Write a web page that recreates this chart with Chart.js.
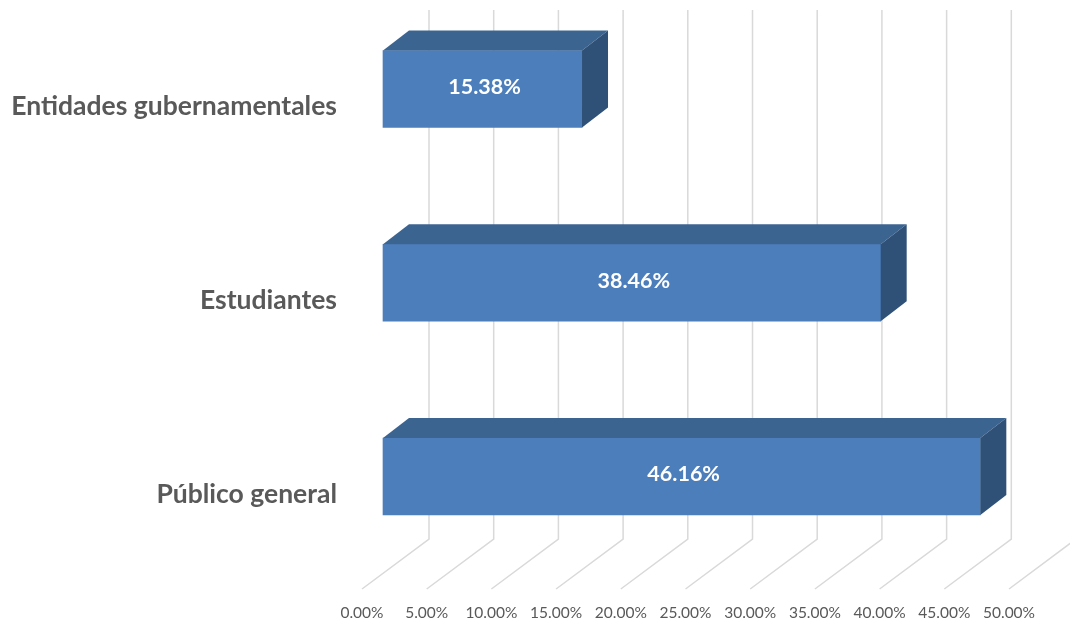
<!DOCTYPE html>
<html>
<head>
<meta charset="utf-8">
<title>Chart</title>
<script src="https://cdn.jsdelivr.net/npm/chart.js@4/dist/chart.umd.min.js"></script>
<style>
    body { margin: 0; background: #fff; }
    canvas { display: block; }
</style>
</head>
<body>
<canvas id="barchart" width="1070" height="618"></canvas>
<script>
var categories = ['Entidades gubernamentales', 'Estudiantes', 'Público general'];
var percentages = [15.38, 38.46, 46.16];
var tickStep = 5;

// 3D look of the original: how far the box and the wall sit from the bar front
var DEPTH_X = 26, DEPTH_Y = 20;
var WALL_X = 46, WALL_TOP = 79, WALL_BOTTOM = 62.5;
var FLOOR_X = 21, FLOOR_Y = 112.5;

// Back wall and floor lines, one per tick of the x axis
var wallGrid = {
    id: 'wallGrid',
    beforeDatasetsDraw: function (chart) {
        var ctx = chart.ctx, area = chart.chartArea, scale = chart.scales.x;
        ctx.save();
        ctx.strokeStyle = '#d9d9d9';
        ctx.lineWidth = 1.5;
        scale.ticks.forEach(function (tick) {
            var x = scale.getPixelForValue(tick.value);
            ctx.beginPath();
            ctx.moveTo(x + WALL_X, area.top - WALL_TOP);
            ctx.lineTo(x + WALL_X, area.bottom + WALL_BOTTOM);
            ctx.lineTo(x - FLOOR_X, area.bottom + FLOOR_Y);
            ctx.stroke();
        });
        ctx.restore();
    }
};

// Top and side faces of every bar, plus the value on its front
var boxFaces = {
    id: 'boxFaces',
    afterDatasetsDraw: function (chart) {
        var ctx = chart.ctx;
        var bars = chart.getDatasetMeta(0).data;
        ctx.save();
        bars.forEach(function (bar, i) {
            var top = bar.y - bar.height / 2, bottom = bar.y + bar.height / 2;

            ctx.fillStyle = '#3c6490';
            ctx.beginPath();
            ctx.moveTo(bar.base, top);
            ctx.lineTo(bar.base + DEPTH_X, top - DEPTH_Y);
            ctx.lineTo(bar.x + DEPTH_X, top - DEPTH_Y);
            ctx.lineTo(bar.x, top);
            ctx.closePath();
            ctx.fill();

            ctx.fillStyle = '#2f5178';
            ctx.beginPath();
            ctx.moveTo(bar.x, top);
            ctx.lineTo(bar.x + DEPTH_X, top - DEPTH_Y);
            ctx.lineTo(bar.x + DEPTH_X, bottom - DEPTH_Y);
            ctx.lineTo(bar.x, bottom);
            ctx.closePath();
            ctx.fill();

            ctx.fillStyle = '#ffffff';
            ctx.font = 'bold 21.5px Lato';
            ctx.textAlign = 'center';
            ctx.textBaseline = 'middle';
            ctx.fillText(percentages[i].toFixed(2) + '%', (bar.base + bar.x) / 2 + 2, bar.y - 2);
        });
        ctx.restore();
    }
};

function initBarChart() {
    var ctx = document.getElementById('barchart').getContext('2d');
    new Chart(ctx, {
        type: 'bar',
        data: {
            labels: categories,
            datasets: [{
                data: percentages,
                backgroundColor: '#4c7ebc',
                barThickness: 77,
                clip: false
            }]
        },
        options: {
            indexAxis: 'y',
            responsive: false,
            animation: false,
            layout: { padding: { top: 89 } },
            plugins: {
                legend: { display: false },
                tooltip: { enabled: false }
            },
            scales: {
                x: {
                    min: 0,
                    max: 53.09,
                    grid: { display: false },
                    border: { display: false },
                    afterFit: function (scale) {
                        // tick padding would otherwise eat into the plot width
                        scale.height = 141.5;
                        scale.paddingLeft = 0;
                        scale.paddingRight = 0;
                    },
                    ticks: {
                        stepSize: tickStep,
                        includeBounds: false,
                        autoSkip: false,
                        maxRotation: 0,
                        padding: 119,
                        labelOffset: -FLOOR_X,
                        color: '#595959',
                        font: { family: 'Lato', size: 15.5 },
                        callback: function (value) { return value.toFixed(2) + '%'; }
                    }
                },
                y: {
                    offset: false,
                    grid: { display: false },
                    border: { display: false },
                    afterFit: function (scale) { scale.width = 383; },
                    ticks: {
                        padding: 38,
                        labelOffset: 17.5,
                        color: '#595959',
                        font: { family: 'Lato', size: 26.5, weight: 'bold' }
                    }
                }
            }
        },
        plugins: [wallGrid, boxFaces]
    });
}

initBarChart();
</script>
</body>
</html>
